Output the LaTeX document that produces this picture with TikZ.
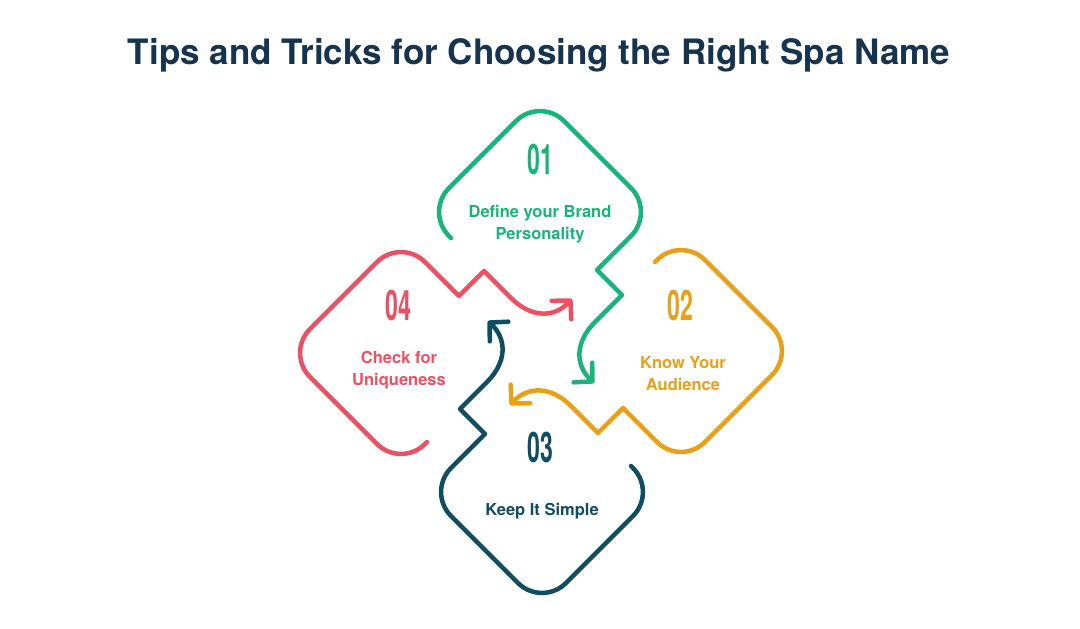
\documentclass[tikz,border=0pt]{standalone}
\usepackage{fontspec}
\setmainfont{TeX Gyre Heros}
\newfontfamily\numfont[FakeStretch=0.55]{TeX Gyre Heros}
\usepackage{xcolor}
\usepackage{tikz}
\usetikzlibrary{arrows.meta}

\definecolor{spatitle}{RGB}{22,52,80}
\definecolor{spagreen}{RGB}{24,180,122}
\definecolor{spaorange}{RGB}{233,160,22}
\definecolor{spablue}{RGB}{16,76,98}
\definecolor{spared}{RGB}{238,80,99}

\tikzset{
	loopline/.style={line width=4.5pt, line cap=round, line join=round, rounded corners=34pt,
		-{Straight Barb[length=13pt, width=27pt, line cap=round, line join=round]}},
	stepnum/.style={font=\numfont\bfseries\fontsize{42}{42}\selectfont, inner sep=0pt},
	steptext/.style={font=\bfseries\fontsize{16.5}{22}\selectfont, align=center, inner sep=0pt}
}

\begin{document}
\begin{tikzpicture}[x=1pt, y=-1pt]
		\useasboundingbox[fill=white] (0,0) rectangle (1080,629);
		\coordinate (C) at (541,352);

		\node[font=\bfseries\fontsize{35}{42}\selectfont, text=spatitle] (title) at (539,55) {Tips and Tricks for Choosing the Right Spa Name};

		\foreach \ang/\col in {0/spagreen, -90/spaorange, -180/spablue, -270/spared} {
			\begin{scope}[rotate around={\ang:(C)}]
				\coordinate (S) at (451,238);
				\coordinate (L) at (425,212);
				\coordinate (T) at (540,97);
				\coordinate (R) at (655,212);
				\coordinate (Z1) at (597,270);
				\coordinate (Z2) at (622,295);
				\coordinate (Z3) at (595,322);
				\coordinate (P1) at (575,342);
				\coordinate (P2) at (575,365);
				\coordinate (E) at (594,383);
				\draw[loopline, \col] (S) -- (L) -- (T) -- (R) [sharp corners] -- (Z1) -- (Z2) -- (Z3) .. controls (P1) and (P2) .. (E);
			\end{scope}
		}

		\node[stepnum, text=spagreen] (n1) at (540,159) {01};
		\node[stepnum, text=spaorange] (n2) at (680,305) {02};
		\node[stepnum, text=spablue] (n3) at (540,447) {03};
		\node[stepnum, text=spared] (n4) at (398,305) {04};

		\node[steptext, text=spagreen] (t1) at (540,224) {Define your Brand\\Personality};
		\node[steptext, text=spaorange] (t2) at (683,374) {Know Your\\Audience};
		\node[steptext, text=spablue] (t3) at (542,511) {Keep It Simple};
		\node[steptext, text=spared] (t4) at (399,370) {Check for\\Uniqueness};
	\end{tikzpicture}
\end{document}
